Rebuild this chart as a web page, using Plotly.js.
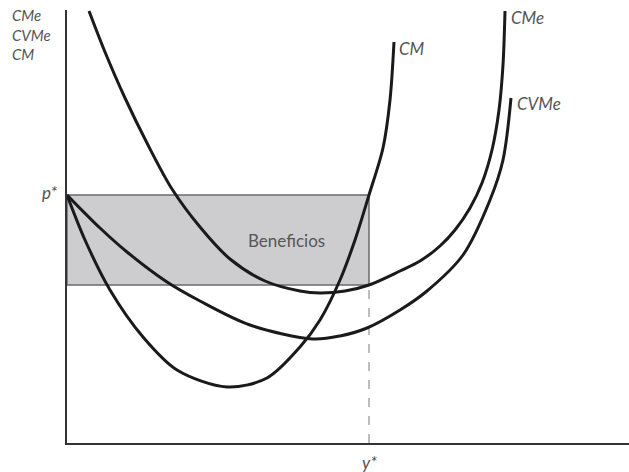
<!DOCTYPE html>
<html>
<head>
<meta charset="utf-8">
<script src="https://cdn.plot.ly/plotly-3.0.1.min.js"></script>
<style>html,body{margin:0;padding:0;background:#fff;}#chart{width:629px;height:472px;}</style>
</head>
<body>
<div id="chart"></div>
<script>
// Quantity (x) and cost (y) values
const pStar = 248;        // price p*
const yStar = 302;        // output y*
const cmeAtYStar = 158;   // average cost at y*

const cmX = [0, 18, 43, 76, 110, 160, 200, 233, 253, 273, 288, 302, 316, 323, 327];
const cmY = [248, 203, 153, 106, 73, 56, 65, 96, 123, 163, 203, 248, 295, 343, 401];

const cmeX = [22, 38, 58, 81, 105, 133, 163, 198, 233, 253, 278, 302, 333, 353, 373, 388, 403, 415, 425, 432, 436, 438];
const cmeY = [432, 391, 345, 298, 254, 216, 184, 162, 152, 150, 152, 158, 172, 182, 197, 213, 235, 260, 293, 333, 378, 432];

const cvmeX = [0, 33, 60, 100, 133, 183, 246, 273, 300, 333, 360, 396, 423, 436, 444];
const cvmeY = [248, 215, 191, 161, 142, 118, 104, 107, 115, 133, 152, 188, 243, 283, 345];

const curveNames = ['CM', 'CMe', 'CVMe'];
const axisLabels = ['CMe', 'CVMe', 'CM'];
const tickPLabel = 'p*';
const tickYLabel = 'y*';
const areaLabel = 'Beneficios';

const FONT = 'Lato, "Open Sans", sans-serif';
const TXT = '#555555';
const curveLine = {color: '#1a1a1a', width: 3, shape: 'spline', smoothing: 0.9};

const traces = [
  {x: cmX, y: cmY, name: curveNames[0], mode: 'lines', line: curveLine, cliponaxis: false, hoverinfo: 'skip'},
  {x: cmeX, y: cmeY, name: curveNames[1], mode: 'lines', line: curveLine, cliponaxis: false, hoverinfo: 'skip'},
  {x: cvmeX, y: cvmeY, name: curveNames[2], mode: 'lines', line: curveLine, cliponaxis: false, hoverinfo: 'skip'}
];

const PW = 562, PH = 433; // plot area size in px
function lab(text, xr, x, yr, y, opts) {
  return Object.assign({
    text: '<i>' + text + '</i>', x: x, y: y, xref: xr, yref: yr, showarrow: false,
    xanchor: 'left', yanchor: 'middle',
    font: {family: FONT, size: 17, color: TXT}
  }, opts || {});
}

const annotations = [
  lab(axisLabels.join('</i><br><i>'), 'paper', -57 / PW, 'y', 409,
      {align: 'left', font: {family: FONT, size: 15, color: TXT}}),
  lab(curveNames[0], 'x', 330, 'y', 395),
  lab(curveNames[1], 'x', 442, 'y', 426),
  lab(curveNames[2], 'x', 448, 'y', 340),
  lab(tickPLabel, 'paper', -8 / PW, 'y', pStar + 3, {xanchor: 'right'}),
  lab(tickYLabel, 'x', yStar, 'paper', -19 / PH, {xanchor: 'center'}),
  {text: areaLabel, x: 219, y: 203, xref: 'x', yref: 'y', showarrow: false,
   xanchor: 'center', yanchor: 'middle', font: {family: FONT, size: 17, color: TXT}}
];

const shapes = [
  {type: 'rect', xref: 'x', yref: 'y', x0: 0, x1: yStar, y0: cmeAtYStar, y1: pStar,
   fillcolor: '#cdcdd0', line: {color: '#6a6a6a', width: 1.5}, layer: 'below'},
  {type: 'line', xref: 'x', yref: 'y', x0: yStar, x1: yStar, y0: 0, y1: cmeAtYStar,
   line: {color: '#9a9a9a', width: 1.3, dash: 'dash'}, layer: 'below'}
];

const layout = {
  width: 629, height: 472,
  margin: {l: 67, r: 0, t: 10, b: 29, pad: 0},
  paper_bgcolor: '#ffffff', plot_bgcolor: '#ffffff',
  showlegend: false,
  xaxis: {range: [0, PW], showline: true, linecolor: '#333', linewidth: 2,
          showgrid: false, zeroline: false, showticklabels: false, ticks: '', fixedrange: true},
  yaxis: {range: [0, PH], showline: true, linecolor: '#333', linewidth: 2,
          showgrid: false, zeroline: false, showticklabels: false, ticks: '', fixedrange: true},
  shapes: shapes,
  annotations: annotations
};

Plotly.newPlot('chart', traces, layout, {staticPlot: true});
</script>
</body>
</html>
